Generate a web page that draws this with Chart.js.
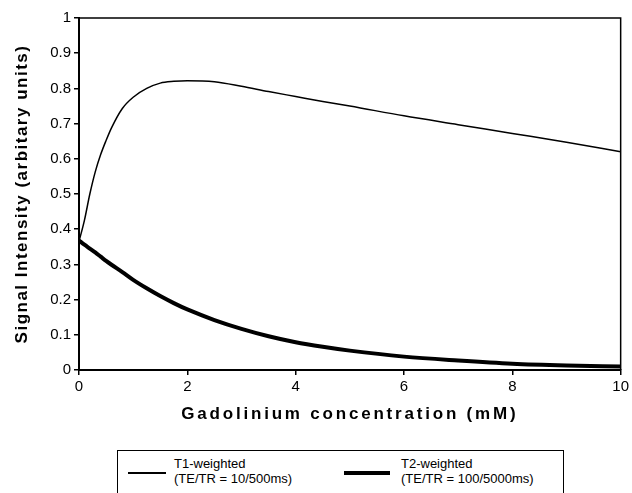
<!DOCTYPE html>
<html>
<head>
<meta charset="utf-8">
<script src="https://cdn.jsdelivr.net/npm/chart.js@4/dist/chart.umd.min.js"></script>
<style>
  html, body { margin: 0; padding: 0; background: #fff; }
  #wrap { position: relative; width: 632px; height: 493px; overflow: hidden; font-family: Arial, "Liberation Sans", sans-serif; }
  #box { position: absolute; left: 0; top: 0; width: 632px; height: 440px; }
  #legend { position: absolute; left: 117px; top: 450px; width: 447px; height: 60px; border: 1px solid #000; box-sizing: border-box; }
  .sample { position: absolute; background: #000; }
  .ltext { position: absolute; font-size: 13px; line-height: 15px; color: #000; white-space: nowrap; }
</style>
</head>
<body>
<div id="wrap">
  <div id="box"><canvas id="c"></canvas></div>
  <div id="legend"></div>
</div>
<script>
// ---- data ----
const concentration = [0, 0.1, 0.2, 0.3, 0.4, 0.5, 0.6, 0.8, 1, 1.25, 1.5, 1.75, 2, 2.5, 3, 3.5, 4, 4.5, 5, 6, 7, 8, 9, 10];
const t1Weighted   = [0.365, 0.425, 0.50, 0.563, 0.612, 0.652, 0.688, 0.743, 0.775, 0.80, 0.815, 0.82, 0.822, 0.819, 0.806, 0.791, 0.777, 0.763, 0.75, 0.722, 0.697, 0.672, 0.647, 0.62];
const t2Weighted   = [0.368, 0.356, 0.345, 0.334, 0.322, 0.31, 0.299, 0.278, 0.256, 0.232, 0.21, 0.19, 0.172, 0.142, 0.117, 0.096, 0.079, 0.066, 0.055, 0.038, 0.027, 0.018, 0.013, 0.01];
const xTicks = [0, 2, 4, 6, 8, 10];
const yTicks = [0, 0.1, 0.2, 0.3, 0.4, 0.5, 0.6, 0.7, 0.8, 0.9, 1];
const seriesNames  = ["T1-weighted", "T2-weighted"];
const seriesSub    = ["(TE/TR = 10/500ms)", "(TE/TR = 100/5000ms)"];
const xTitle = "Gadolinium concentration (mM)";
const yTitle = "Signal Intensity (arbitary units)";

const toPts = (ys) => concentration.map((x, i) => ({ x: x, y: ys[i] }));

const frame = {
  id: 'frame',
  afterLayout(chart) {
    // letter-spaced axis titles, as in the reference
    [['x', '2.8px'], ['y', '1.5px']].forEach(([id, sp]) => {
      const s = chart.scales[id];
      if (s && !s._spaced) {
        const orig = s.drawTitle.bind(s);
        s.drawTitle = function () {
          const ctx = this.ctx;
          ctx.save();
          ctx.letterSpacing = sp;
          orig();
          ctx.restore();
        };
        s._spaced = true;
      }
    });
  },
  afterDatasetsDraw(chart) {
    const { ctx, chartArea: a } = chart;
    ctx.save();
    ctx.strokeStyle = '#000';
    ctx.lineWidth = 1.5;
    ctx.beginPath();
    ctx.moveTo(a.left, a.top);
    ctx.lineTo(a.right, a.top);
    ctx.lineTo(a.right, a.bottom);
    ctx.stroke();
    ctx.restore();
  }
};

const fmt = (v) => String(Math.round(v * 10) / 10);

new Chart(document.getElementById('c'), {
  type: 'line',
  data: {
    datasets: [
      { label: seriesNames[0], data: toPts(t1Weighted), borderColor: '#000', borderWidth: 1.5, pointRadius: 0, cubicInterpolationMode: 'monotone', fill: false },
      { label: seriesNames[1], data: toPts(t2Weighted), borderColor: '#000', borderWidth: 4, pointRadius: 0, cubicInterpolationMode: 'monotone', fill: false }
    ]
  },
  options: {
    responsive: true,
    maintainAspectRatio: false,
    animation: false,
    layout: { padding: { left: 0, top: 18, right: 9, bottom: 15 } },
    plugins: { legend: { display: false }, tooltip: { enabled: false } },
    scales: {
      x: {
        type: 'linear', min: xTicks[0], max: xTicks[xTicks.length - 1],
        afterBuildTicks(s) { s.ticks = xTicks.map(v => ({ value: v })); },
        ticks: { color: '#000', font: { family: 'Arial, "Liberation Sans"', size: 15 }, padding: 3, maxRotation: 0, callback: fmt },
        grid: { drawOnChartArea: false, drawTicks: true, tickLength: 5, color: '#000', lineWidth: 1.5 },
        border: { color: '#000', width: 2 },
        title: { display: true, text: xTitle, color: '#000', font: { family: 'Arial, "Liberation Sans"', size: 17, weight: 'bold' }, padding: { top: 5, bottom: 0 } },
        afterFit(s) { s.height = 55; }
      },
      y: {
        min: yTicks[0], max: yTicks[yTicks.length - 1],
        afterBuildTicks(s) { s.ticks = yTicks.map(v => ({ value: v })); },
        ticks: { color: '#000', font: { family: 'Arial, "Liberation Sans"', size: 15 }, padding: 3, callback: fmt },
        grid: { drawOnChartArea: false, drawTicks: true, tickLength: 5, color: '#000', lineWidth: 1.5 },
        border: { color: '#000', width: 2 },
        title: { display: true, text: yTitle, color: '#000', font: { family: 'Arial, "Liberation Sans"', size: 17, weight: 'bold' }, padding: { top: 12, bottom: 0 } },
        afterFit(s) { s.width = 79; }
      }
    }
  },
  plugins: [frame]
});

// HTML legend
const legend = document.getElementById('legend');
const items = [
  { sx: 10, sw: 38, th: 1.5, tx: 56 },
  { sx: 226, sw: 46, th: 4, tx: 283 }
];
items.forEach((it, i) => {
  const s = document.createElement('div');
  s.className = 'sample';
  s.style.left = it.sx + 'px';
  s.style.top = (22 - it.th / 2) + 'px';
  s.style.width = it.sw + 'px';
  s.style.height = it.th + 'px';
  legend.appendChild(s);
  const t = document.createElement('div');
  t.className = 'ltext';
  t.style.left = it.tx + 'px';
  t.style.top = '5px';
  t.innerHTML = seriesNames[i] + '<br>' + seriesSub[i];
  legend.appendChild(t);
});
</script>
</body>
</html>
